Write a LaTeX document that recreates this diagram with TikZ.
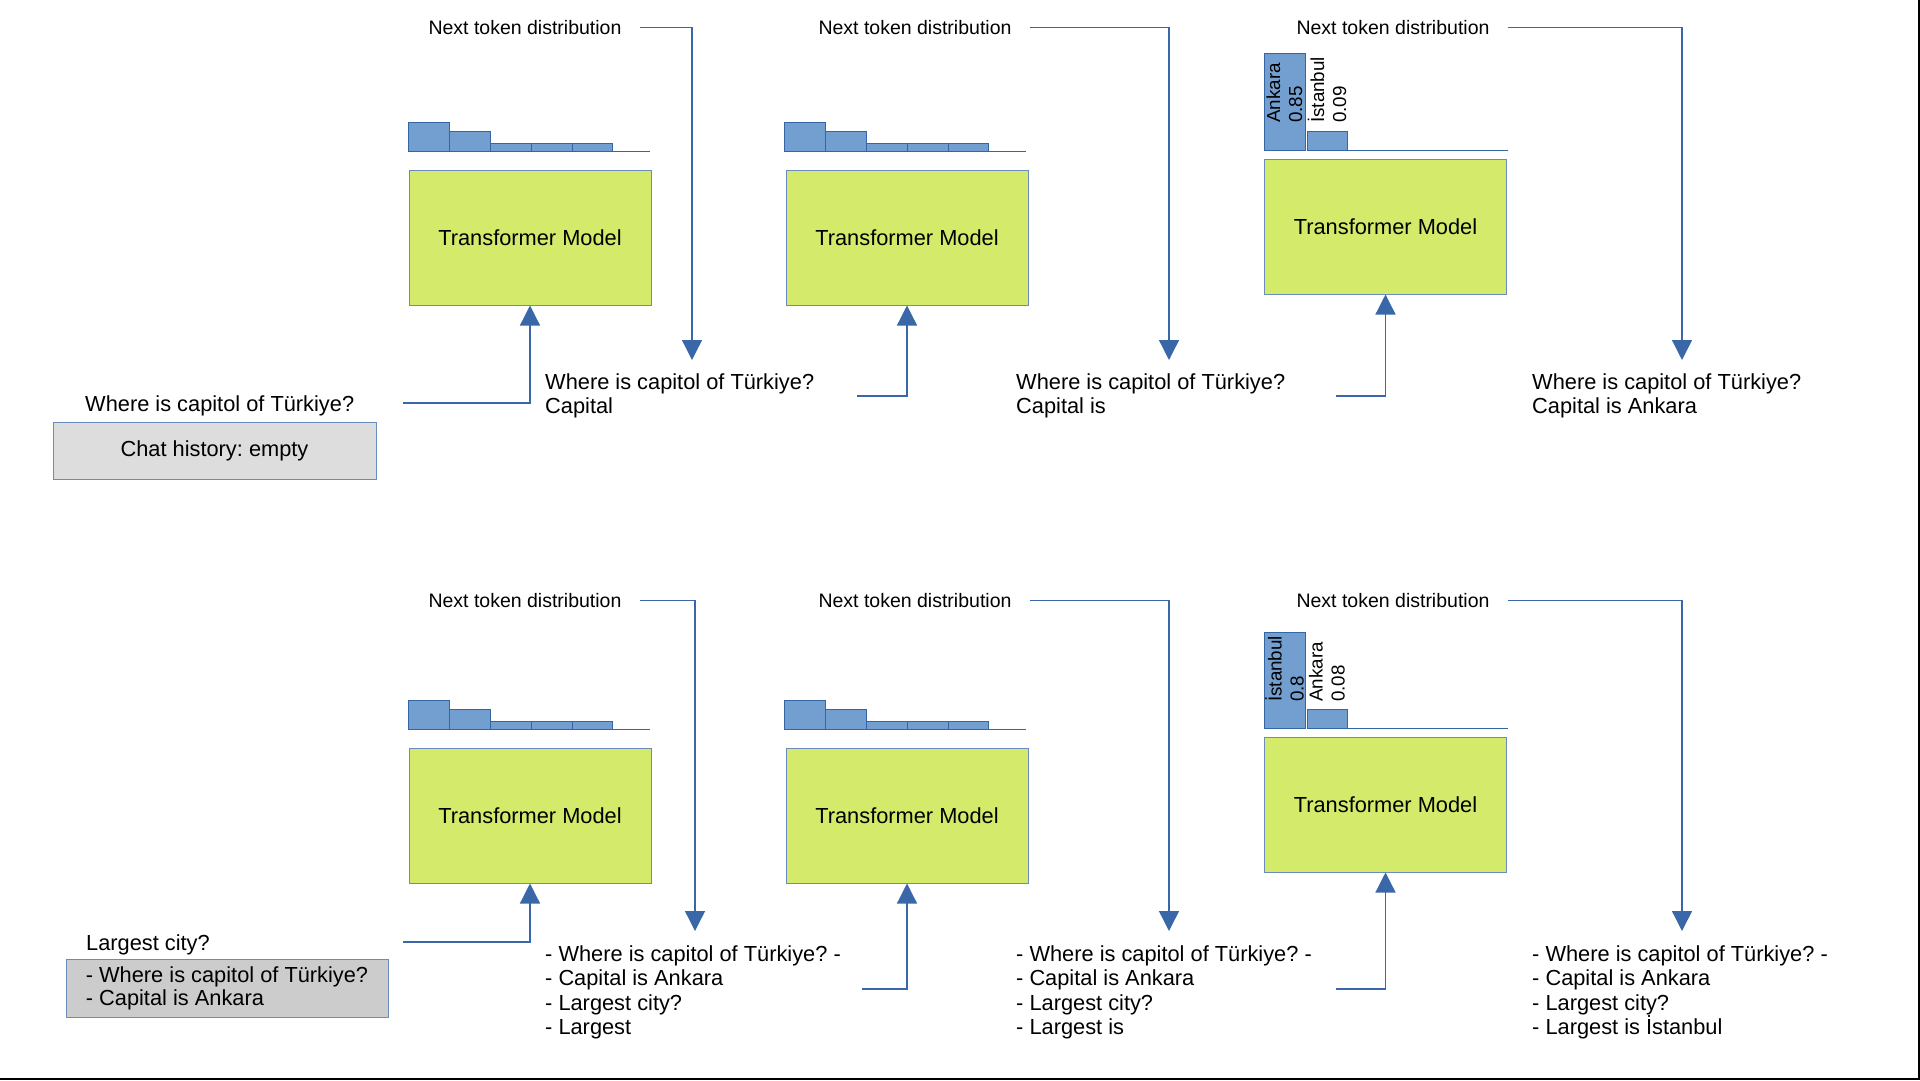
\documentclass[tikz,border=0pt]{standalone}
\usepackage{fontspec}
\setmainfont{Liberation Sans}
\usetikzlibrary{arrows.meta}
\frenchspacing
\definecolor{lineblue}{HTML}{3A67A8}
\definecolor{barfill}{HTML}{729FCF}
\definecolor{bardraw}{HTML}{3465A4}
\definecolor{tmfill}{HTML}{D4EA6B}
\definecolor{boxdraw}{HTML}{6A8CBC}
\definecolor{histA}{HTML}{DDDDDD}
\definecolor{histB}{HTML}{CCCCCC}
\newcommand{\mainfs}{\fontsize{21.8}{24.5}\selectfont\frenchspacing}
\newcommand{\ntfs}{\fontsize{19.5}{22}\selectfont}
\newcommand{\barfs}{\fontsize{18.8}{22}\selectfont}
\newcommand{\flatbars}[2]{%
  \draw[bar] (#1,#2) rectangle (#1+41,#2-29);
  \draw[bar] (#1+41,#2) rectangle (#1+82,#2-20);
  \draw[bar] (#1+82,#2) rectangle (#1+123,#2-8);
  \draw[bar] (#1+123,#2) rectangle (#1+164,#2-8);
  \draw[bar] (#1+164,#2) rectangle (#1+204,#2-8);
  \draw[barline] (#1+202,#2) -- (#1+242,#2);
}
\newcommand{\peakbars}[3]{%
  \draw[bar] (1264,#1) rectangle (1305,#2);
  \draw[bar] (1307,#1) rectangle (1347,#3);
  \draw[barline] (1347,#1) -- (1508,#1);
}
\begin{document}
\begin{tikzpicture}[x=1pt,y=-1pt,
  conn/.style={draw=lineblue, line width=1.3pt, -{Triangle[width=20pt,length=20pt]}},
  tmbox/.style={draw=boxdraw, fill=tmfill, line width=1pt, minimum width=242pt, minimum height=135pt, inner sep=0pt, font=\mainfs},
  ntlabel/.style={font=\ntfs, inner sep=0pt, anchor=base},
  plaintext/.style={font=\mainfs, inner sep=0pt, anchor=base west},
  outtext/.style={font=\mainfs, inner sep=0pt, anchor=north west, align=left},
  bar/.style={draw=bardraw, fill=barfill, line width=0.8pt},
  barline/.style={draw=bardraw, line width=1pt},
  barlab/.style={font=\barfs, inner sep=0pt, rotate=90, anchor=west, align=left},
  histbox/.style={draw=boxdraw, line width=1pt, font=\mainfs}
]
\useasboundingbox (0,0) rectangle (1920,1080);
\fill[white] (0,0) rectangle (1920,1080);
\draw[line width=2pt] (1919,0) -- (1919,1079) -- (0,1079);

% ===== top row =====
\flatbars{408}{151.5}
\flatbars{784}{151.5}
\peakbars{150}{53}{131}
\node[barlab] (lbA) at (1284.5,123) {Ankara\\0.85};
\node[barlab] (lbB) at (1327,123) {İstanbul\\0.09};

\node[tmbox] (tm1) at (530,237.5) {Transformer Model};
\node[tmbox] (tm2) at (907,237.5) {Transformer Model};
\node[tmbox] (tm3) at (1385.5,226.5) {Transformer Model};

\node[ntlabel] (nt1) at (525,34.5) {Next token distribution};
\node[ntlabel] (nt2) at (915,34.5) {Next token distribution};
\node[ntlabel] (nt3) at (1393,34.5) {Next token distribution};

\node[plaintext] (q1) at (85,411) {Where is capitol of Türkiye?};
\node[histbox, fill=histA, minimum width=323pt, minimum height=57pt, inner sep=0pt] (hist1) at (214.5,450.5) {Chat history: empty};

\node[outtext] (o1) at (545,371.85) {\strut Where is capitol of Türkiye?\\\strut Capital};
\node[outtext] (o2) at (1016,371.85) {\strut Where is capitol of Türkiye?\\\strut Capital is};
\node[outtext] (o3) at (1532,371.85) {\strut Where is capitol of Türkiye?\\\strut Capital is Ankara};

\coordinate (t1) at (692,360);
\coordinate (t2) at (1169,360);
\coordinate (t3) at (1682,360);
\draw[conn] ([xshift=18pt]nt1.east) -| (t1);
\draw[conn] ([xshift=18pt]nt2.east) -| (t2);
\draw[conn] ([xshift=18pt]nt3.east) -| (t3);

\coordinate (s1) at (403,403);
\coordinate (s2) at (857,396);
\coordinate (s3) at (1336,396);
\draw[conn] (s1) -| (tm1.south);
\draw[conn] (s2) -| (tm2.south);
\draw[conn] (s3) -| (tm3.south);

% ===== bottom row =====
\flatbars{408}{729.5}
\flatbars{784}{729.5}
\peakbars{728}{632}{709}
\node[barlab] (lbC) at (1284.5,702) {İstanbul\\0.8};
\node[barlab] (lbD) at (1327,702) {Ankara\\0.08};

\node[tmbox] (tm4) at (530,815.5) {Transformer Model};
\node[tmbox] (tm5) at (907,815.5) {Transformer Model};
\node[tmbox] (tm6) at (1385.5,804.5) {Transformer Model};

\node[ntlabel] (nt4) at (525,607.5) {Next token distribution};
\node[ntlabel] (nt5) at (915,607.5) {Next token distribution};
\node[ntlabel] (nt6) at (1393,607.5) {Next token distribution};

\node[plaintext] (q2) at (86,950) {Largest city?};
\node[histbox, fill=histB, minimum width=322pt, minimum height=58pt, inner sep=0pt, align=left, font=\fontsize{21.8}{23}\selectfont\frenchspacing] (hist2) at (227,988) {- Where is capitol of Türkiye?\\- Capital is Ankara};

\node[outtext] (o4) at (545,943.85) {\strut - Where is capitol of Türkiye? -\\\strut - Capital is Ankara\\\strut - Largest city?\\\strut - Largest};
\node[outtext] (o5) at (1016,943.85) {\strut - Where is capitol of Türkiye? -\\\strut - Capital is Ankara\\\strut - Largest city?\\\strut - Largest is};
\node[outtext] (o6) at (1532,943.85) {\strut - Where is capitol of Türkiye? -\\\strut - Capital is Ankara\\\strut - Largest city?\\\strut - Largest is \smash{İ}stanbul};

\coordinate (t4) at (695,931);
\coordinate (t5) at (1169,931);
\coordinate (t6) at (1682,931);
\draw[conn] ([xshift=18pt]nt4.east) -| (t4);
\draw[conn] ([xshift=18pt]nt5.east) -| (t5);
\draw[conn] ([xshift=18pt]nt6.east) -| (t6);

\coordinate (s4) at (403,942);
\coordinate (s5) at (862,989);
\coordinate (s6) at (1336,989);
\draw[conn] (s4) -| (tm4.south);
\draw[conn] (s5) -| (tm5.south);
\draw[conn] (s6) -| (tm6.south);
\end{tikzpicture}
\end{document}
